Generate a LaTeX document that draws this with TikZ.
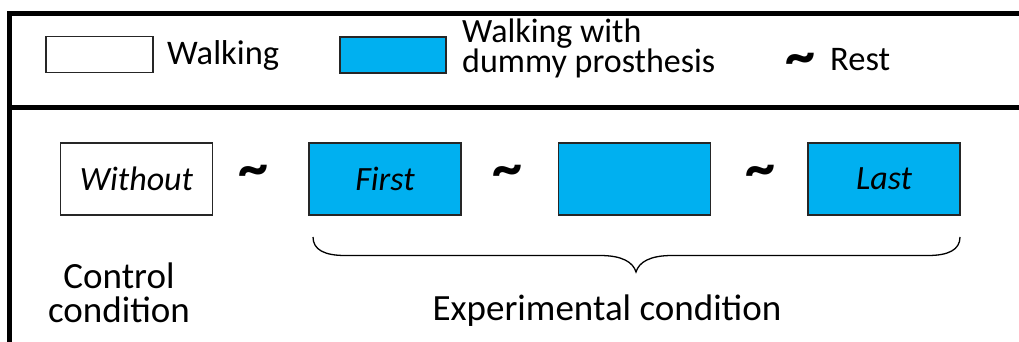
\documentclass[tikz,border=0pt]{standalone}
\usepackage{fontspec}
\setmainfont{Carlito}
\begin{document}
\begin{tikzpicture}[x=1pt,y=-1pt,
  frame/.style={line width=5pt,black},
  walkbox/.style={draw=black!85,line width=1.4pt,fill=white,minimum width=107pt,minimum height=35.5pt,inner sep=0pt},
  protbox/.style={draw=black!85,line width=1.4pt,fill=protblue,minimum width=152pt,minimum height=72pt,inner sep=0pt,font=\fontsize{34}{34}\selectfont\itshape},
  lbl/.style={font=\fontsize{34.5}{34.5}\selectfont,inner sep=0pt},
  captext/.style={font=\fontsize{37}{34}\selectfont,inner sep=0pt},
  rest/.style={font=\fontsize{60}{60}\selectfont\bfseries,inner sep=0pt}
]
\definecolor{protblue}{HTML}{00B0F0}
\useasboundingbox (0,0) rectangle (1019,342);

% outer frame
\draw[frame] (1019,14) -- (9.5,14) -- (9.5,342);
\draw[frame] (7,107.5) -- (1019,107.5);

% legend
\node[walkbox] (legwalk) at (99.5,54.5) {};
\node[lbl,anchor=base west] (legwalktxt) at (167,65) {Walking};
\node[walkbox,fill=protblue,minimum width=106pt,minimum height=36pt] (legprot) at (393,55) {};
\node[lbl,anchor=base west,align=left,font=\fontsize{34}{30}\selectfont] (legprottxt) at (462,73) {Walking with\\dummy prosthesis};
\node[rest] (legrest) at (800,64) {\textasciitilde};
\node[lbl,anchor=base west] (legresttxt) at (830,71) {Rest};

% sessions
\node[protbox,fill=white] (without) at (136.5,179) {Without};
\node[rest] (r1) at (253,176) {\textasciitilde};
\node[protbox] (first) at (385,179) {First};
\node[rest] (r2) at (507,176) {\textasciitilde};
\node[protbox] (middle) at (634.5,179) {};
\node[rest] (r3) at (760,176) {\textasciitilde};
\node[protbox] (last) at (884,179) {Last};

% brace under the experimental sessions
\coordinate (bl) at (313,237);
\coordinate (br) at (960,237);
\coordinate (tip) at (636,272);
\draw[line width=1.3pt]
  (bl) .. controls (313,250) and (325,255.5) .. (345,255.5)
  -- (600,255.5) .. controls (622,255.5) and (633,262) .. (tip)
  .. controls (639,262) and (650,255.5) .. (672,255.5)
  -- (928,255.5) .. controls (948,255.5) and (960,250) .. (br);

% captions
\node[captext,anchor=base] (ctrl1) at (119,288) {Control};
\node[captext,anchor=base] (ctrl2) at (119,322) {condition};
\node[captext,anchor=base] (expt) at (607,320) {Experimental condition};
\end{tikzpicture}
\end{document}
